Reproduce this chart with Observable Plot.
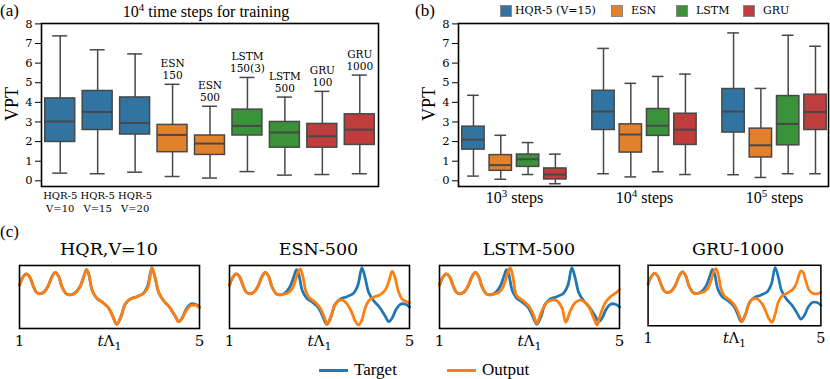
<!DOCTYPE html>
<html><head><meta charset="utf-8">
<script src="https://cdn.jsdelivr.net/npm/d3@7"></script>
<script src="https://cdn.jsdelivr.net/npm/@observablehq/plot@0.6"></script>
<style>
body{margin:0;background:#fff}
#fig{position:relative;width:830px;height:379px;overflow:hidden;background:#fff;color:#000}
.abs{position:absolute;white-space:nowrap;line-height:1}
.lib{font-family:"Liberation Serif",serif}
.dej{font-family:"DejaVu Serif",serif}
</style></head><body><div id="fig"></div>
<script>
// ---------- data: panel (a) ----------
const aModel = ["HQR","HQR","HQR","ESN","ESN","LSTM","LSTM","GRU","GRU"];
const aTick  = ["HQR-5\nV=10","HQR-5\nV=15","HQR-5\nV=20"];
const aTop   = ["","","","ESN\n150","ESN\n500","LSTM\n150(3)","LSTM\n500","GRU\n100","GRU\n1000"];
const aLo  = [0.39,0.36,0.44,0.22,0.14,0.47,0.29,0.32,0.36];
const aQ1  = [1.98,2.59,2.36,1.46,1.32,2.31,1.69,1.69,1.83];
const aMed = [3.02,3.51,2.95,2.34,1.90,2.80,2.46,2.27,2.61];
const aQ3  = [4.20,4.58,4.25,2.85,2.31,3.63,3.00,2.90,3.39];
const aHi  = [7.39,6.68,6.47,4.92,3.80,5.27,4.27,4.56,5.39];

// ---------- data: panel (b) ----------
const bExp = [3,4,5];
const bModels = ["HQR","ESN","LSTM","GRU"];
const bLegend = ["HQR-5 (V=15)","ESN","LSTM","GRU"];
const bLo  = [[0.24,0.08,0.32,-0.15],[0.36,0.20,0.46,0.32],[0.31,0.17,0.36,0.36]];
const bQ1  = [[1.59,0.51,0.71,0.07],[2.59,1.44,2.29,1.83],[2.46,1.19,1.81,2.59]];
const bMed = [[2.10,0.80,1.10,0.32],[3.53,2.36,2.81,2.61],[3.53,1.81,2.90,3.51]];
const bQ3  = [[2.76,1.31,1.34,0.63],[4.59,2.88,3.66,3.42],[4.68,2.66,4.32,4.39]];
const bHi  = [[4.36,2.32,1.95,1.36],[6.75,4.97,5.32,5.44],[7.54,4.71,7.42,6.86]];

const palette = ["#3274a1","#e1812c","#3a923a","#c03d3e"];
const yTicks = [0,1,2,3,4,5,6,7,8];

// ---------- data: panel (c) ----------
const cTitles = ["HQR,V=10","ESN-500","LSTM-500","GRU-1000"];
const targetT = [1.00,1.074,1.149,1.223,1.298,1.372,1.447,1.544,1.633,1.723,1.797,1.872,1.946,2.043,2.132,2.229,2.341,2.430,2.490,2.542,2.616,2.713,2.840,2.974,3.063,3.160,3.257,3.346,3.458,3.607,3.756,3.853,3.942,4.017,4.091,4.203,4.330,4.449,4.538,4.613,4.702,4.799,4.911,5.000];
const targetY = [0.687,0.813,0.868,0.824,0.687,0.577,0.549,0.577,0.670,0.824,0.890,0.824,0.659,0.549,0.533,0.560,0.659,0.824,0.934,0.852,0.604,0.484,0.418,0.330,0.209,0.066,0.192,0.385,0.467,0.505,0.560,0.687,0.962,0.797,0.577,0.440,0.341,0.209,0.110,0.165,0.302,0.385,0.385,0.341];
const hqrOutT = targetT;
const hqrOutY = [0.687,0.813,0.868,0.824,0.687,0.577,0.549,0.577,0.670,0.824,0.890,0.824,0.659,0.549,0.533,0.560,0.659,0.824,0.934,0.852,0.604,0.484,0.418,0.330,0.209,0.066,0.192,0.385,0.467,0.505,0.555,0.650,0.960,0.800,0.580,0.440,0.341,0.209,0.105,0.165,0.280,0.360,0.370,0.330];
const esnOutT = [1.00,1.074,1.149,1.223,1.298,1.372,1.447,1.544,1.633,1.723,1.797,1.872,1.946,2.043,2.132,2.229,2.304,2.393,2.467,2.527,2.572,2.631,2.691,2.765,2.885,3.011,3.101,3.175,3.257,3.331,3.421,3.510,3.607,3.704,3.793,3.868,3.942,4.017,4.106,4.225,4.352,4.464,4.538,4.613,4.672,4.747,4.836,4.926,5.000];
const esnOutY = [0.687,0.813,0.868,0.824,0.687,0.577,0.549,0.577,0.670,0.824,0.890,0.824,0.659,0.549,0.533,0.549,0.566,0.632,0.769,0.907,0.945,0.824,0.604,0.495,0.429,0.330,0.192,0.066,0.192,0.357,0.440,0.451,0.396,0.275,0.121,0.055,0.137,0.330,0.451,0.505,0.538,0.615,0.742,0.907,0.824,0.604,0.467,0.429,0.407];
const lstmOutT = [1.00,1.074,1.149,1.223,1.298,1.372,1.447,1.544,1.633,1.723,1.797,1.872,1.946,2.043,2.132,2.229,2.304,2.393,2.467,2.527,2.572,2.631,2.713,2.862,3.011,3.101,3.160,3.272,3.384,3.495,3.607,3.719,3.808,3.905,4.017,4.129,4.240,4.330,4.426,4.501,4.575,4.687,4.799,4.911,5.000];
const lstmOutY = [0.687,0.813,0.868,0.824,0.687,0.577,0.549,0.577,0.670,0.824,0.890,0.824,0.659,0.549,0.533,0.549,0.566,0.632,0.769,0.907,0.962,0.824,0.522,0.440,0.330,0.192,0.082,0.275,0.412,0.451,0.440,0.330,0.099,0.275,0.412,0.451,0.412,0.330,0.165,0.055,0.220,0.412,0.505,0.560,0.615];
const gruOutT = [1.00,1.074,1.149,1.223,1.298,1.372,1.447,1.544,1.633,1.723,1.797,1.872,1.946,2.043,2.132,2.229,2.304,2.393,2.467,2.527,2.572,2.631,2.691,2.765,2.885,3.011,3.101,3.175,3.257,3.331,3.421,3.510,3.607,3.704,3.793,3.868,3.942,4.017,4.106,4.240,4.352,4.426,4.486,4.538,4.590,4.650,4.724,4.821,4.911,5.000];
const gruOutY = [0.687,0.813,0.868,0.824,0.687,0.577,0.549,0.577,0.670,0.824,0.890,0.824,0.659,0.549,0.533,0.549,0.566,0.632,0.769,0.907,0.945,0.824,0.604,0.495,0.429,0.330,0.192,0.066,0.192,0.357,0.440,0.451,0.396,0.275,0.121,0.055,0.192,0.396,0.495,0.549,0.604,0.687,0.824,0.907,0.879,0.742,0.593,0.533,0.527,0.549];
const cOutT = [hqrOutT, esnOutT, lstmOutT, gruOutT];
const cOutY = [hqrOutY, esnOutY, lstmOutY, gruOutY];
const cTickLabel = {1:"1", 3:"tΛ1", 5:"5"};

// ---------- helpers ----------
const fig = document.getElementById("fig");
function place(node, left, top) {
  const d = document.createElement("div");
  d.style.position = "absolute"; d.style.left = left + "px"; d.style.top = top + "px";
  d.appendChild(node); fig.appendChild(d); return d;
}
function html(str, cls, style) {
  const d = document.createElement("div");
  d.className = "abs " + cls; d.innerHTML = str; d.setAttribute("style", style);
  fig.appendChild(d); return d;
}
const edge = "#484848";
function boxMarks(data, hw, cw) {
  return [
    Plot.ruleX(data, {x: "x", y1: "lo", y2: "q1", stroke: edge, strokeWidth: 1.5}),
    Plot.ruleX(data, {x: "x", y1: "q3", y2: "hi", stroke: edge, strokeWidth: 1.5}),
    Plot.ruleY(data, {y: "lo", x1: d => d.x - cw, x2: d => d.x + cw, stroke: edge, strokeWidth: 1.5}),
    Plot.ruleY(data, {y: "hi", x1: d => d.x - cw, x2: d => d.x + cw, stroke: edge, strokeWidth: 1.5}),
    Plot.rect(data, {x1: d => d.x - hw, x2: d => d.x + hw, y1: "q1", y2: "q3", fill: "model", stroke: edge, strokeWidth: 1.5}),
    Plot.ruleY(data, {y: "med", x1: d => d.x - hw, x2: d => d.x + hw, stroke: edge, strokeWidth: 2})
  ];
}
const yDomain = [-0.29, 8.02];

// ---------- panel (a) ----------
const aData = aModel.map((m, i) => ({x: i, model: m, lo: aLo[i], q1: aQ1[i], med: aMed[i], q3: aQ3[i], hi: aHi[i], top: aTop[i]}));
const plotA = Plot.plot({
  width: 410, height: 222, marginLeft: 41, marginRight: 32, marginTop: 23, marginBottom: 36,
  style: {fontFamily: "DejaVu Serif", fontSize: "11.5px", color: "#000", background: "transparent", overflow: "visible"},
  x: {type: "linear", domain: [-0.5, 8.5]},
  y: {domain: yDomain},
  color: {domain: bModels, range: palette},
  marks: [
    ...boxMarks(aData, 0.4, 0.2),
    Plot.text(aData.filter(d => d.top), {x: "x", y: "hi", text: "top", lineAnchor: "bottom", dy: -5, fontSize: 10.5, lineHeight: 1.15, fill: "#000"}),
    Plot.axisY({ticks: yTicks, tickSize: 6, tickPadding: 3, fontSize: 11.5, label: null}),
    Plot.axisX({ticks: [0, 1, 2], tickFormat: i => aTick[i], tickSize: 0, tickPadding: 3, fontSize: 10, lineHeight: 1.3, label: null}),
    Plot.frame({stroke: "#000", strokeWidth: 1.6})
  ]
});
place(plotA, 0, 0);

// ---------- panel (b) ----------
const bData = [];
bExp.forEach((e, g) => bModels.forEach((m, h) => bData.push({
  x: g + (h - 1.5) * 0.21, model: m, lo: bLo[g][h], q1: bQ1[g][h], med: bMed[g][h], q3: bQ3[g][h], hi: bHi[g][h]
})));
const plotB = Plot.plot({
  width: 420, height: 222, marginLeft: 48, marginRight: 2, marginTop: 23, marginBottom: 36,
  style: {fontFamily: "DejaVu Serif", fontSize: "11.5px", color: "#000", background: "transparent", overflow: "visible"},
  x: {type: "linear", domain: [-0.43, 2.415]},
  y: {domain: yDomain},
  color: {domain: bModels, range: palette},
  marks: [
    ...boxMarks(bData, 0.086, 0.045),
    Plot.axisY({ticks: yTicks, tickSize: 6, tickPadding: 3, fontSize: 11.5, label: null}),
    Plot.axisX({ticks: [0, 1, 2], tickFormat: i => "10^" + bExp[i] + " steps", tickSize: 0, tickPadding: 5, fontSize: 16, fontFamily: "Liberation Serif", label: null}),
    Plot.frame({stroke: "#000", strokeWidth: 1.6})
  ]
});
plotB.querySelectorAll("text").forEach(t => {
  const m = /^10\^(\d) steps$/.exec(t.textContent);
  if (m) t.innerHTML = `10<tspan dy="-6" font-size="11">${m[1]}</tspan><tspan dy="6"> steps</tspan>`;
});
place(plotB, 410, 0);

// ---------- panel (c) ----------
const cLeft = [19, 228.5, 439, 648];
cTitles.forEach((title, k) => {
  const tgt = targetT.map((t, i) => ({t, y: targetY[i]}));
  const out = cOutT[k].map((t, i) => ({t, y: cOutY[k][i]}));
  const p = Plot.plot({
    width: 200, height: 96, marginLeft: 10, marginRight: 10, marginTop: 5, marginBottom: 28,
    style: {fontFamily: "DejaVu Serif", fontSize: "15px", color: "#000", background: "transparent", overflow: "visible"},
    x: {domain: [1, 5]},
    y: {domain: [0, 1], axis: null},
    marks: [
      Plot.line(tgt, {x: "t", y: "y", stroke: "#1f77b4", strokeWidth: 2.8, curve: "catmull-rom"}),
      Plot.line(out, {x: "t", y: "y", stroke: "#ff7f0e", strokeWidth: 2.8, curve: "catmull-rom"}),
      Plot.axisX({ticks: [1, 3, 5], tickFormat: d => cTickLabel[d], tickSize: 0, tickPadding: 7, fontSize: 15, label: null}),
      Plot.frame({stroke: "#000", strokeWidth: 1.6})
    ]
  });
  p.querySelectorAll("text").forEach(t => {
    if (t.textContent === "tΛ1") t.innerHTML = `<tspan font-style="italic">t</tspan>Λ<tspan dy="4" font-size="11">1</tspan>`;
  });
  place(p, cLeft[k] - 10, 260);
  html(title, "dej", `left:${cLeft[k] - 60}px;width:300px;text-align:center;top:241px;font-size:17.5px`);
});

// ---------- text, labels, legends ----------
html("(a)", "lib", "left:0;top:2px;font-size:17px");
html("(b)", "lib", "left:415px;top:2px;font-size:17px");
html("(c)", "lib", "left:0;top:223px;font-size:17px");
html("10<sup style='font-size:11px;vertical-align:6px'>4</sup> time steps for training", "lib", "left:6px;width:400px;text-align:center;top:2px;font-size:16px");
html("VPT", "lib", "left:12px;top:104px;font-size:18px;transform:translate(-50%,-50%) rotate(-90deg)");
html("VPT", "lib", "left:429px;top:104px;font-size:18px;transform:translate(-50%,-50%) rotate(-90deg)");

// legend (b)
const legX = [500, 611, 676, 743];
bLegend.forEach((name, i) => {
  html("", "", `left:${legX[i]}px;top:4.5px;width:10px;height:10px;background:${palette[i]};border:1px solid #888`);
  html(name, "dej", `left:${legX[i] + (i === 0 ? 15 : 20)}px;top:4.5px;font-size:11px`);
});

// legend (c)
[["Target", "#1f77b4", 319], ["Output", "#ff7f0e", 447]].forEach(([name, col, x]) => {
  html("", "", `left:${x}px;top:368.5px;width:29px;height:3px;background:${col}`);
  html(name, "lib", `left:${x + 35}px;top:361px;font-size:17px`);
});
</script></body></html>
